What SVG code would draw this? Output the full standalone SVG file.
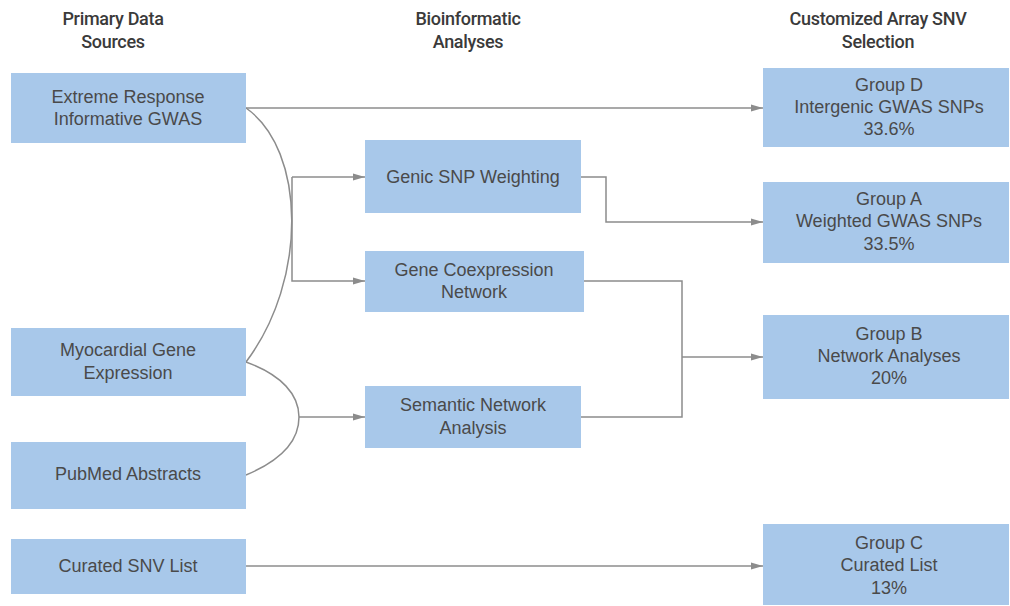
<svg xmlns="http://www.w3.org/2000/svg" width="1010" height="606" viewBox="0 0 1010 606">
  <defs>
    <marker id="arrow" viewBox="0 0 12 8" refX="12" refY="4" markerWidth="12" markerHeight="8" markerUnits="userSpaceOnUse" orient="auto">
      <path d="M0,0.5 L12,4 L0,7.5 Z" fill="#8c8c8c"/>
    </marker>
    <style>
      .box { fill: #a8c8ea; }
      .lbl { font-family: "Liberation Sans", Arial, sans-serif; font-size: 18px; fill: #4a4a4a; text-anchor: middle; }
      .hdr { font-family: Roboto, "Liberation Sans", sans-serif; font-size: 18px; font-weight: 500; fill: #3a3a3a; text-anchor: middle; letter-spacing: -0.3px; }
      .wire { fill: none; stroke: #8c8c8c; stroke-width: 1.5; }
      .arr { marker-end: url(#arrow); }
    </style>
  </defs>

  <!-- column headings -->
  <g id="headers">
    <text class="hdr" x="113" y="25">Primary Data</text>
    <text class="hdr" x="113" y="48">Sources</text>
    <text class="hdr" x="468" y="25">Bioinformatic</text>
    <text class="hdr" x="468" y="48">Analyses</text>
    <text class="hdr" x="878" y="25">Customized Array SNV</text>
    <text class="hdr" x="878" y="48">Selection</text>
  </g>

  <!-- connectors -->
  <g id="connectors">
    <path class="wire arr" d="M246,108 H763"/>
    <path class="wire" d="M246,108 C306,150 308,280 246,362"/>
    <path class="wire arr" d="M292,177 H365"/>
    <path class="wire arr" d="M292,177 V281 H365"/>
    <path class="wire" d="M246,362 C282,375 299,395 299,417 C299,440 282,460 246,475"/>
    <path class="wire arr" d="M299,417 H365"/>
    <path class="wire arr" d="M581,177 H606 V222 H763"/>
    <path class="wire" d="M584,281 H682 V417 H581"/>
    <path class="wire arr" d="M682,357 H763"/>
    <path class="wire arr" d="M246,566 H763"/>
  </g>

  <!-- primary data sources -->
  <g id="extreme-response">
    <rect class="box" x="11" y="73" width="235" height="70"/>
    <text class="lbl" x="128" y="103">Extreme Response</text>
    <text class="lbl" x="128" y="125">Informative GWAS</text>
  </g>
  <g id="myocardial">
    <rect class="box" x="11" y="328" width="235" height="68"/>
    <text class="lbl" x="128" y="356">Myocardial Gene</text>
    <text class="lbl" x="128" y="379">Expression</text>
  </g>
  <g id="pubmed">
    <rect class="box" x="11" y="442" width="235" height="67"/>
    <text class="lbl" x="128" y="480">PubMed Abstracts</text>
  </g>
  <g id="curated-list">
    <rect class="box" x="11" y="539" width="235" height="55"/>
    <text class="lbl" x="128" y="572">Curated SNV List</text>
  </g>

  <!-- bioinformatic analyses -->
  <g id="genic-weighting">
    <rect class="box" x="365" y="140" width="216" height="73"/>
    <text class="lbl" x="473" y="183">Genic SNP Weighting</text>
  </g>
  <g id="coexpression">
    <rect class="box" x="365" y="251" width="219" height="61"/>
    <text class="lbl" x="474" y="276">Gene Coexpression</text>
    <text class="lbl" x="474" y="298">Network</text>
  </g>
  <g id="semantic">
    <rect class="box" x="365" y="386" width="216" height="62"/>
    <text class="lbl" x="473" y="411">Semantic Network</text>
    <text class="lbl" x="473" y="434">Analysis</text>
  </g>

  <!-- customized array groups -->
  <g id="group-d">
    <rect class="box" x="763" y="68" width="246" height="79"/>
    <text class="lbl" x="889" y="91">Group D</text>
    <text class="lbl" x="889" y="113">Intergenic GWAS SNPs</text>
    <text class="lbl" x="889" y="135">33.6%</text>
  </g>
  <g id="group-a">
    <rect class="box" x="763" y="182" width="246" height="81"/>
    <text class="lbl" x="889" y="205">Group A</text>
    <text class="lbl" x="889" y="227">Weighted GWAS SNPs</text>
    <text class="lbl" x="889" y="250">33.5%</text>
  </g>
  <g id="group-b">
    <rect class="box" x="763" y="315" width="246" height="84"/>
    <text class="lbl" x="889" y="340">Group B</text>
    <text class="lbl" x="889" y="362">Network Analyses</text>
    <text class="lbl" x="889" y="384">20%</text>
  </g>
  <g id="group-c">
    <rect class="box" x="763" y="524" width="246" height="81"/>
    <text class="lbl" x="889" y="549">Group C</text>
    <text class="lbl" x="889" y="571">Curated List</text>
    <text class="lbl" x="889" y="594">13%</text>
  </g>
</svg>
